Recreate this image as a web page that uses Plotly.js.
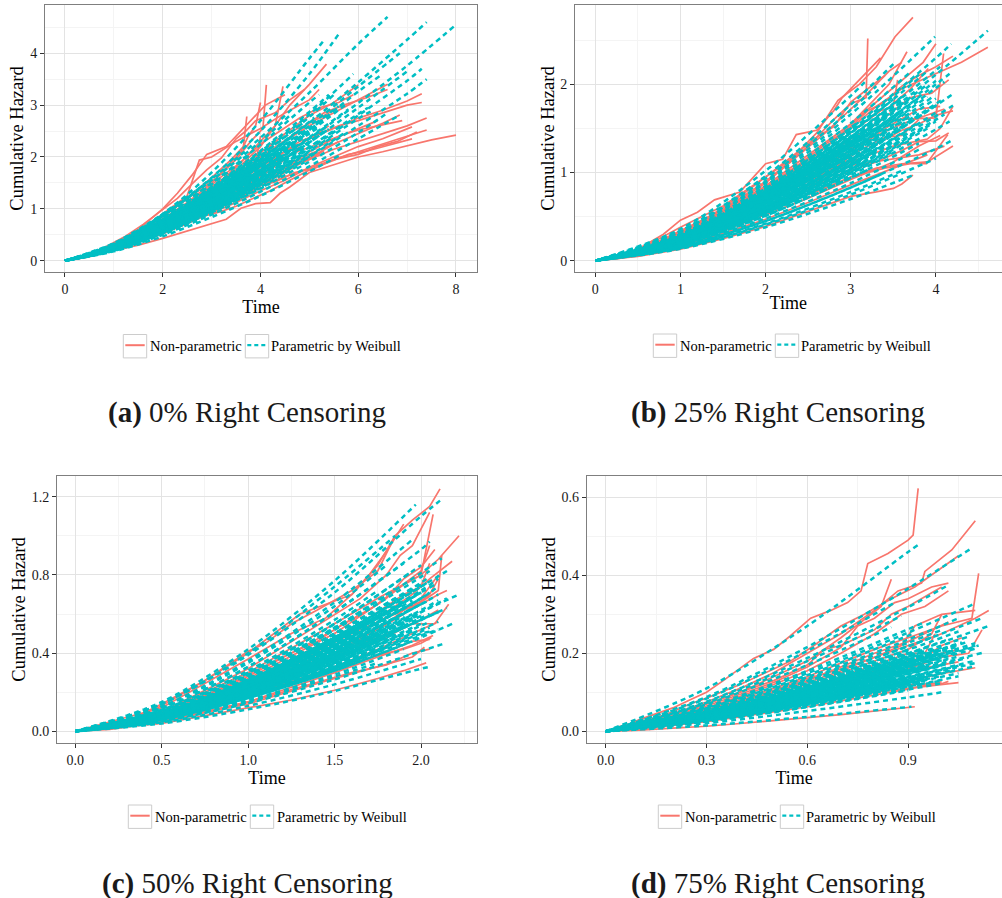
<!DOCTYPE html>
<html><head><meta charset="utf-8">
<script src="https://cdn.plot.ly/plotly-3.0.1.min.js"></script>
<style>html,body{margin:0;padding:0;background:#fff}#chart{width:1002px;height:898px}</style>
</head><body><div id="chart"></div>
<script>
// ---------- DATA (time, cumulative hazard) ----------
const seriesNames = ["Non-parametric", "Parametric by Weibull"];
const captions = ["0% Right Censoring", "25% Right Censoring", "50% Right Censoring", "75% Right Censoring"];
const captionTags = ["(a)", "(b)", "(c)", "(d)"];

const a_xticks = [0, 2, 4, 6, 8];
const a_yticks = [0, 1, 2, 3, 4];
const b_xticks = [0, 1, 2, 3, 4];
const b_yticks = [0, 1, 2];
const c_xticks = [0, 0.5, 1, 1.5, 2];
const c_xlabels = ["0.0", "0.5", "1.0", "1.5", "2.0"];
const c_yticks = [0, 0.4, 0.8, 1.2];
const c_ylabels = ["0.0", "0.4", "0.8", "1.2"];
const d_xticks = [0, 0.3, 0.6, 0.9];
const d_xlabels = ["0.0", "0.3", "0.6", "0.9"];
const d_yticks = [0, 0.2, 0.4, 0.6];
const d_ylabels = ["0.0", "0.2", "0.4", "0.6"];

// Panel (a) 0% censoring
const a_nonpar = [
 [[0,0],[0.5,.08],[1,.2],[1.5,.3],[2,.43],[2.5,.57],[3,.72],[3.3,.8],[3.6,1.01],[3.9,1.1],[4.2,1.12],[4.4,1.3],[4.6,1.42],[5,1.7],[5.5,1.85],[6,2.0],[6.5,2.1],[7,2.22],[7.5,2.33],[8,2.42]],
 [[0,0],[0.5,.09],[1,.22],[1.5,.37],[2,.55],[2.5,.75],[3,.98],[3.5,1.2],[4,1.45],[4.5,1.62],[5,1.78],[5.5,1.95],[6,2.1],[6.5,2.25],[7,2.4],[7.4,2.52]],
 [[0,0],[0.5,.1],[1,.24],[1.5,.4],[2,.6],[2.5,.82],[3,1.05],[3.5,1.3],[4,1.6],[4.5,1.8],[5,1.95],[5.5,2.15],[6,2.3],[6.5,2.45],[7,2.6],[7.4,2.75]],
 [[0,0],[0.5,.1],[1,.26],[1.5,.45],[2,.66],[2.5,.9],[3,1.18],[3.5,1.5],[4,1.8],[4.5,2.1],[5,2.35],[5.5,2.55],[6,2.75],[6.5,2.9],[7,3.08],[7.3,3.22]],
 [[0,0],[0.5,.1],[1,.27],[1.5,.47],[2,.7],[2.5,.98],[3,1.28],[3.5,1.62],[4,1.95],[4.5,2.3],[5,2.6],[5.5,2.85],[6,3.1],[6.6,3.4]],
 [[0,0],[0.5,.08],[1,.21],[1.5,.36],[2,.52],[2.5,.72],[3,.92],[3.5,1.12],[4,1.35],[4.5,1.55],[5,1.8],[5.5,2.0],[6,2.2],[6.5,2.35],[7.1,2.58]],
 [[0,0],[0.5,.09],[1,.23],[1.5,.39],[2,.58],[2.5,.8],[3,1.02],[3.5,1.28],[4,1.52],[4.5,1.78],[5,2.05],[5.5,2.25],[6,2.45],[6.5,2.65],[6.85,2.81]],
 [[0,0],[0.5,.11],[1,.28],[1.5,.5],[2,.76],[2.5,1.05],[3,1.4],[3.5,1.8],[4,2.3],[4.3,2.6],[4.6,3.0],[5,3.4],[5.35,3.79]],
 [[0,0],[0.5,.11],[1,.29],[1.5,.52],[2,.8],[2.5,1.12],[3,1.5],[3.5,1.95],[3.8,2.3],[4.05,2.55],[4.12,3.39]],
 [[0,0],[0.5,.12],[1,.3],[1.5,.55],[2,.85],[2.5,1.2],[3,1.6],[3.4,1.95],[3.65,2.2],[3.72,2.78]],
 [[0,0],[0.5,.1],[1,.27],[1.5,.48],[2,.74],[2.5,1.02],[3,1.36],[3.5,1.75],[4,2.2],[4.3,2.6],[4.46,3.36]],
 [[0,0],[0.5,.13],[1,.33],[1.5,.6],[2,1.0],[2.3,1.3],[2.6,1.65],[2.9,2.05],[3.3,2.2],[3.7,2.6],[4.1,3.0],[4.5,3.2]],
 [[0,0],[0.5,.12],[1,.31],[1.5,.57],[2,.9],[2.5,1.25],[2.75,1.94],[3,2.0],[3.5,2.3],[4,2.55],[4.5,2.85],[5,3.1],[5.2,3.3]],
 [[0,0],[0.5,.11],[1,.28],[1.5,.5],[2,.76],[2.5,1.05],[3,1.38],[3.5,1.72],[4,2.08],[4.5,2.45],[5,2.8],[5.5,3.05],[6,3.39]],
 [[0,0],[0.4,.07],[0.8,.17],[1.2,.3],[1.6,.45],[2,.62],[2.3,.7],[2.6,.88],[3,1.0],[3.3,1.15],[3.6,1.2],[4,1.45],[4.3,1.52],[4.7,1.7],[5.1,1.78],[5.5,1.95],[6,2.05],[6.4,2.2],[6.8,2.3],[7.2,2.48]],
 [[0,0],[0.4,.08],[0.8,.2],[1.2,.36],[1.6,.55],[2,.78],[2.4,1.0],[2.7,1.25],[3,1.42],[3.3,1.62],[3.6,1.75],[3.9,2.05],[4.2,2.2],[4.5,2.45],[4.9,2.6],[5.3,2.85],[5.7,3.0],[6.2,3.15],[6.6,3.3]],
 [[0,0],[0.4,.06],[0.8,.15],[1.2,.27],[1.6,.4],[2,.55],[2.4,.7],[2.8,.85],[3.2,.95],[3.5,1.05],[3.8,1.18],[4.2,1.35],[4.6,1.55],[5,1.75],[5.4,1.9],[5.8,2.05],[6.2,2.12],[6.7,2.25],[7.1,2.35]],
 [[0,0],[0.4,.09],[0.8,.22],[1.2,.4],[1.6,.6],[2,.85],[2.4,1.12],[2.8,1.4],[3.1,1.6],[3.4,1.9],[3.6,2.1],[3.75,2.4],[3.9,2.6],[4.0,3.05]],
 [[0,0],[0.4,.09],[0.8,.22],[1.2,.38],[1.6,.58],[2,.8],[2.4,1.05],[2.8,1.3],[3.2,1.62],[3.6,1.9],[4.0,2.25],[4.4,2.5],[4.8,2.75],[5.2,2.95],[5.6,3.05],[5.9,3.2]],
 [[0,0],[0.4,.1],[0.8,.25],[1.2,.45],[1.6,.7],[2,.98],[2.3,1.2],[2.6,1.48],[2.9,1.75],[3.2,1.98],[3.5,2.35],[3.7,2.5],[3.9,2.7],[4.3,2.85],[4.6,3.1],[4.9,3.3]],
 [[0,0],[0.4,.08],[0.8,.19],[1.2,.33],[1.6,.5],[2,.68],[2.4,.9],[2.8,1.12],[3.2,1.38],[3.6,1.6],[4.0,1.85],[4.4,2.05],[4.8,2.3],[5.2,2.45],[5.6,2.6],[6,2.7],[6.5,2.85],[7,3.0],[7.3,3.05]],
 [[0,0],[0.4,.07],[0.8,.18],[1.2,.32],[1.6,.48],[2,.65],[2.4,.85],[2.8,1.08],[3.2,1.3],[3.6,1.5],[4,1.72],[4.4,1.95],[4.8,2.12],[5.2,2.25],[5.6,2.4],[6,2.52],[6.4,2.6],[6.9,2.7]],
 [[0,0],[0.5,.09],[1,.22],[1.5,.38],[2,.57],[2.5,.79],[3,1.02],[3.5,1.27],[4,1.52],[4.5,1.8],[5,2.1],[5.5,2.35],[6,2.55],[6.4,2.7]],
 [[0,0],[0.5,.09],[1,.24],[1.5,.42],[2,.62],[2.5,.85],[3,1.1],[3.5,1.4],[4,1.7],[4.5,2.05],[5,2.35],[5.4,2.6]],
 [[0,0],[0.5,.1],[1,.25],[1.5,.44],[2,.66],[2.5,.92],[3,1.2],[3.5,1.52],[4,1.88],[4.4,2.15]],
 [[0,0],[0.5,.08],[1,.2],[1.5,.35],[2,.52],[2.5,.72],[3,.95],[3.5,1.18],[4,1.45],[4.5,1.7],[5,1.98],[5.6,2.3]],
 [[0,0],[0.5,.1],[1,.26],[1.5,.46],[2,.7],[2.5,.96],[3,1.25],[3.5,1.58],[3.9,1.85],[4,2.4]],
 [[0,0],[0.5,.09],[1,.23],[1.5,.4],[2,.6],[2.5,.82],[3,1.07],[3.5,1.33],[4,1.62],[4.5,1.95],[4.8,2.2]],
 [[0,0],[0.5,.1],[1,.27],[1.5,.47],[2,.72],[2.5,1.0],[3,1.3],[3.5,1.65],[4,2.0],[4.5,2.32],[5,2.65],[5.5,2.9]],
 [[0,0],[0.5,.08],[1,.21],[1.5,.37],[2,.55],[2.5,.77],[3,1.0],[3.5,1.24],[4,1.5],[4.5,1.74],[5,1.95],[5.3,2.12]]
];
const a_weib = [
 [[0,0],[1,.34],[2,.9],[3,1.58],[4,2.37],[5,3.24],[6,4.18],[6.6,4.7]],
 [[0,0],[1,.3],[2,.9],[3,1.7],[4,2.7],[5,3.9],[5.3,4.25]],
 [[0,0],[1,.3],[2,.86],[3,1.6],[4,2.5],[5,3.6],[5.6,4.37]],
 [[0,0],[1,.28],[2,.74],[3,1.3],[4,1.95],[5,2.66],[6,3.44],[7,4.26],[7.4,4.6]],
 [[0,0],[1,.25],[2,.65],[3,1.15],[4,1.72],[5,2.35],[6,3.04],[7,3.76],[8,4.55]],
 [[0,0],[1,.21],[2,.56],[3,.99],[4,1.47],[5,2.01],[6,2.6],[7,3.22],[7.4,3.5]],
 [[0,0],[1,.22],[2,.6],[3,1.06],[4,1.58],[5,2.16],[6,2.8],[7,3.47],[7.3,3.7]],
 [[0,0],[1,.19],[2,.5],[3,.89],[4,1.33],[5,1.82],[6,2.35],[6.8,2.78]],
 [[0,0],[1,.27],[2,.72],[3,1.27],[4,1.9],[5,2.6],[6,3.36],[6.85,4.0]],
 [[0,0],[1,.29],[2,.78],[3,1.38],[4,2.06],[5,2.82],[5.9,3.6]],
 [[0,0],[1,.26],[2,.7],[3,1.23],[4,1.84],[5,2.52],[6,3.26],[6.5,3.6]],
 [[0,0],[1,.24],[2,.63],[3,1.12],[4,1.67],[5,2.28],[6,2.95],[7,3.65]],
 [[0,0],[1,.32],[2,.85],[3,1.5],[4,2.24],[5,3.05],[5.2,3.2]],
 [[0,0],[1,.2],[2,.53],[3,.94],[4,1.4],[5,1.91],[6,2.47],[6.6,2.85]],
 [[0,0],[1,.23],[2,.61],[3,1.08],[4,1.6],[5,2.19],[6,2.83],[6.2,2.95]],
 [[0,0],[1,.25],[2,.66],[3,1.17],[4,1.75],[4.8,2.25]],
 [[0,0],[1,.27],[2,.72],[3,1.27],[4,1.9],[4.5,2.22]],
 [[0,0],[1,.22],[2,.58],[3,1.03],[4,1.53],[5,2.1],[5.5,2.4]],
 [[0,0],[1,.3],[2,.8],[3,1.42],[4,2.12],[4.4,2.43]],
 [[0,0],[1,.24],[2,.64],[3,1.13],[4,1.68],[5,2.3],[5.3,2.5]],
 [[0,0],[1,.28],[2,.75],[3,1.33],[3.9,1.9]],
 [[0,0],[1,.2],[2,.54],[3,.96],[4,1.42],[4.9,1.9]],
 [[0,0],[1,.26],[2,.69],[3,1.22],[4,1.81],[5,2.48],[5.8,3.05]],
 [[0,0],[1,.31],[2,.83],[3,1.47],[3.8,2.05]],
 [[0,0],[1,.23],[2,.6],[3,1.07],[4,1.6],[4.3,1.78]],
 [[0,0],[1,.29],[2,.77],[3,1.36],[4,2.03],[5,2.77],[5.5,3.2]],
 [[0,0],[1,.21],[2,.56],[3,1.0],[4,1.49],[5,2.03],[5.7,2.45]],
 [[0,0],[1,.25],[2,.67],[3,1.19],[3.6,1.52]],
 [[0,0],[1,.33],[2,.88],[3,1.55],[4,2.3],[4.6,2.8]],
 [[0,0],[1,.18],[2,.47],[3,.84],[4,1.25],[5,1.72],[5.6,2.02]],
 [[0,0],[1,.27],[2,.71],[3,1.26],[4,1.87],[5,2.56],[5.6,2.98]],
 [[0,0],[1,.24],[2,.62],[3,1.1],[4,1.64],[4.6,1.98]],
 [[0,0],[1,.3],[2,.8],[3,1.41],[4,2.1],[5,2.87],[5.4,3.2]],
 [[0,0],[1,.22],[2,.59],[3,1.04],[4,1.55],[5,2.12],[6,2.74],[6.3,2.9]],
 [[0,0],[1,.26],[2,.68],[3,1.2],[4,1.8],[5,2.45],[5.2,2.58]],
 [[0,0],[1,.2],[2,.53],[3,.93],[4,1.39],[4.2,1.49]],
 [[0,0],[1,.205],[2,.54],[3,.96],[3.6,1.23]],
 [[0,0],[1,.21],[2,.55],[3,.98],[4,1.46],[5,2.0],[5.1,2.06]],
 [[0,0],[1,.215],[2,.57],[3,1.0],[4,1.5],[4.5,1.77]],
 [[0,0],[1,.22],[2,.58],[3,1.03],[3.8,1.43]],
 [[0,0],[1,.225],[2,.59],[3,1.05],[4,1.57],[4.9,2.08]],
 [[0,0],[1,.23],[2,.61],[3,1.07],[3.4,1.28]],
 [[0,0],[1,.235],[2,.62],[3,1.1],[4,1.64],[4.6,1.99]],
 [[0,0],[1,.24],[2,.63],[3,1.12],[4,1.67],[5,2.28],[5.4,2.54]],
 [[0,0],[1,.245],[2,.65],[3,1.14],[4,1.71],[4.1,1.76]],
 [[0,0],[1,.25],[2,.66],[3,1.17],[3.7,1.56]],
 [[0,0],[1,.255],[2,.67],[3,1.19],[4,1.77],[4.7,2.23]],
 [[0,0],[1,.26],[2,.69],[3,1.21],[3.5,1.5]],
 [[0,0],[1,.265],[2,.7],[3,1.23],[4,1.84],[5,2.52],[5.2,2.67]],
 [[0,0],[1,.27],[2,.71],[3,1.26],[4,1.88],[4.4,2.15]],
 [[0,0],[1,.275],[2,.73],[3,1.28],[3.2,1.4]],
 [[0,0],[1,.28],[2,.74],[3,1.3],[4,1.95],[4.2,2.09]],
 [[0,0],[1,.285],[2,.75],[3,1.33],[3.6,1.71]],
 [[0,0],[1,.29],[2,.77],[3,1.35],[4,2.02],[4.9,2.68]],
 [[0,0],[1,.295],[2,.78],[3,1.37],[3.8,1.91]],
 [[0,0],[1,.23],[2,.61],[3,1.07],[4,1.6],[5,2.19],[5.6,2.56]],
 [[0,0],[1,.25],[2,.66],[3,1.17],[4,1.74],[5,2.38],[5.8,2.92]],
 [[0,0],[1,.215],[2,.57],[3,1.0],[3.4,1.19]],
 [[0,0],[1,.26],[2,.69],[3,1.21],[4,1.81],[4.5,2.14]],
 [[0,0],[1,.24],[2,.63],[3,1.12],[3.9,1.62]],
 [[0,0],[1,.27],[2,.71],[3,1.26],[4,1.88],[5,2.57]],
 [[0,0],[1,.22],[2,.58],[3,1.03],[4,1.53],[4.6,1.87]],
 [[0,0],[1,.25],[2,.66],[3,1.17],[4,1.74],[4.3,1.92]],
 [[0,0],[1,.28],[2,.74],[3,1.3],[3.4,1.55]],
 [[0,0],[1,.235],[2,.62],[3,1.1],[3.1,1.15]],
 [[0,0],[1,.212],[2,.56],[3,.99],[4,1.48]],
 [[0,0],[1,.218],[2,.58],[3,1.02],[4,1.52],[5,2.08]],
 [[0,0],[1,.228],[2,.6],[3,1.06],[4,1.59],[4.3,1.76]],
 [[0,0],[1,.232],[2,.61],[3,1.08],[3.9,1.56]],
 [[0,0],[1,.238],[2,.63],[3,1.11],[4,1.66],[4.8,2.16]],
 [[0,0],[1,.242],[2,.64],[3,1.13],[3.6,1.45]],
 [[0,0],[1,.248],[2,.65],[3,1.16],[4,1.73],[5,2.36],[5.3,2.56]],
 [[0,0],[1,.252],[2,.67],[3,1.17],[4,1.75],[4.4,2.01]],
 [[0,0],[1,.258],[2,.68],[3,1.2],[3.8,1.67]],
 [[0,0],[1,.262],[2,.69],[3,1.22],[4,1.82],[4.9,2.42]],
 [[0,0],[1,.268],[2,.71],[3,1.25],[4,1.87]],
 [[0,0],[1,.272],[2,.72],[3,1.27],[3.5,1.57]],
 [[0,0],[1,.278],[2,.73],[3,1.3],[4,1.93],[4.6,2.36]],
 [[0,0],[1,.282],[2,.74],[3,1.31],[4,1.96],[5,2.68],[5.1,2.76]],
 [[0,0],[1,.288],[2,.76],[3,1.34],[4,2.0],[4.2,2.15]],
 [[0,0],[1,.222],[2,.59],[3,1.03],[3.3,1.18]],
 [[0,0],[1,.245],[2,.65],[3,1.14],[4,1.71],[4.5,2.01]],
 [[0,0],[1,.255],[2,.67],[3,1.19],[3.3,1.36]],
 [[0,0],[1,.265],[2,.7],[3,1.23],[4,1.84],[4.3,2.04]],
 [[0,0],[1,.235],[2,.62],[3,1.1],[4,1.64],[5,2.24]]
];

// Panel (b) 25% censoring
const b_nonpar = [
 [[0,0],[0.5,.12],[1,.38],[1.5,.62],[2,.95],[2.3,1.15],[2.6,1.45],[2.85,1.82],[3.1,2.0],[3.3,2.2],[3.52,2.54],[3.73,2.76]],
 [[0,0],[0.5,.11],[1,.34],[1.5,.58],[2,.9],[2.5,1.3],[2.8,1.6],[3.0,1.78],[3.18,1.85],[3.2,2.52]],
 [[0,0],[0.5,.1],[1,.3],[1.5,.55],[2,.82],[2.5,1.15],[3,1.5],[3.3,1.75],[3.6,1.95],[4,2.12],[4.3,2.25],[4.61,2.42]],
 [[0,0],[0.5,.08],[1,.24],[1.5,.42],[2,.62],[2.5,.85],[3,1.12],[3.5,1.3],[3.9,1.38],[4.05,1.5],[4.2,1.75]],
 [[0,0],[0.5,.07],[1,.2],[1.5,.36],[2,.55],[2.5,.75],[3,.95],[3.4,1.05],[3.7,1.1],[3.89,1.1],[4.14,1.43]],
 [[0,0],[0.5,.09],[1,.27],[1.5,.48],[2,.74],[2.5,1.02],[3,1.33],[3.5,1.6],[4.0,1.62],[4.09,2.35]],
 [[0,0],[0.5,.05],[1,.13],[1.5,.25],[2,.39],[2.5,.56],[3,.73],[3.3,.78],[3.5,.82],[3.6,.87],[3.73,.97]],
 [[0,0],[0.5,.13],[0.8,.3],[1,.46],[1.2,.55],[1.4,.69],[1.7,.78],[2.0,1.1],[2.2,1.15],[2.36,1.43],[2.6,1.48],[2.8,1.7],[2.9,1.85],[3.1,2.05],[3.35,2.3]],
 [[0,0],[0.5,.1],[1,.32],[1.5,.56],[2,.85],[2.5,1.2],[3,1.55],[3.3,1.8],[3.6,2.05],[3.85,2.25],[4.0,2.46]],
 [[0,0],[0.5,.09],[1,.28],[1.5,.5],[2,.76],[2.5,1.05],[3,1.4],[3.4,1.7],[3.7,1.95],[3.91,2.18]],
 [[0,0],[0.5,.1],[1,.31],[1.5,.54],[2,.82],[2.5,1.12],[2.9,1.45],[3.2,1.75],[3.45,2.0],[3.66,2.37]],
 [[0,0],[0.5,.07],[1,.22],[1.5,.4],[2,.6],[2.5,.82],[3,1.08],[3.5,1.15],[3.8,1.2],[4.1,1.3]],
 [[0,0],[0.3,.04],[0.6,.12],[0.9,.22],[1.2,.33],[1.5,.45],[1.8,.6],[2.1,.78],[2.4,.92],[2.7,1.1],[3,1.25],[3.3,1.42],[3.6,1.55],[3.9,1.65],[4.1,1.72]],
 [[0,0],[0.3,.05],[0.6,.14],[0.9,.26],[1.2,.38],[1.5,.55],[1.8,.72],[2.1,.9],[2.4,1.1],[2.7,1.32],[3,1.52],[3.2,1.7],[3.4,1.8],[3.6,1.98],[3.8,2.1],[4.0,2.2],[4.2,2.32]],
 [[0,0],[0.3,.03],[0.6,.09],[0.9,.17],[1.2,.27],[1.5,.37],[1.8,.48],[2.1,.6],[2.4,.72],[2.7,.82],[3,.95],[3.3,1.05],[3.6,1.1],[3.9,1.12],[4.2,1.3]],
 [[0,0],[0.3,.05],[0.6,.15],[0.9,.28],[1.2,.42],[1.5,.6],[1.8,.8],[2.1,1.02],[2.4,1.25],[2.6,1.4],[2.8,1.52],[3.0,1.8],[3.2,1.95],[3.4,2.1]],
 [[0,0],[0.3,.04],[0.6,.11],[0.9,.2],[1.2,.31],[1.5,.43],[1.8,.56],[2.1,.7],[2.4,.85],[2.7,1.0],[3,1.15],[3.3,1.32],[3.6,1.48],[3.8,1.55],[4.0,1.65],[4.2,1.7]],
 [[0,0],[0.3,.03],[0.6,.1],[0.9,.18],[1.2,.28],[1.5,.38],[1.8,.5],[2.1,.62],[2.4,.75],[2.7,.9],[3,1.02],[3.3,1.12],[3.6,1.25],[3.8,1.35],[4.0,1.36],[4.15,1.45]],
 [[0,0],[0.5,.08],[1,.25],[1.5,.45],[2,.68],[2.5,.95],[3,1.25],[3.4,1.5],[3.8,1.72],[4.05,1.75]],
 [[0,0],[0.5,.08],[1,.26],[1.5,.46],[2,.7],[2.5,.98],[2.9,1.25],[3.2,1.35]],
 [[0,0],[0.5,.06],[1,.17],[1.5,.31],[2,.47],[2.5,.66],[3,.86],[3.5,1.05],[3.9,1.2]],
 [[0,0],[0.5,.11],[1,.33],[1.5,.57],[2,.88],[2.4,1.2],[2.7,1.45],[3.0,1.72],[3.2,1.9],[3.45,2.15],[3.6,2.25]],
 [[0,0],[0.5,.09],[1,.29],[1.5,.5],[2,.76],[2.5,1.06],[3,1.38],[3.3,1.55],[3.7,1.85],[3.95,1.9],[4.15,2.05]],
 [[0,0],[0.5,.06],[1,.19],[1.5,.34],[2,.52],[2.5,.71],[3,.92],[3.5,1.12],[3.8,1.3],[4.05,1.42]],
 [[0,0],[0.5,.07],[1,.23],[1.5,.43],[2,.66],[2.5,.9],[2.8,1.05],[3.1,1.25],[3.4,1.4],[3.6,1.42],[3.8,1.6]],
 [[0,0],[0.5,.1],[1,.3],[1.5,.53],[2,.8],[2.5,1.1],[3,1.45],[3.35,1.7],[3.5,1.75],[3.55,2.05]]
];
const b_weib = [
 [[0,0],[1,.26],[2,.75],[3,1.37],[4,2.11],[4.61,2.61]],
 [[0,0],[1,.29],[2,.82],[3,1.5],[4,2.3],[4.18,2.46]],
 [[0,0],[1,.32],[2,.9],[3,1.66],[3.99,2.54]],
 [[0,0],[1,.25],[2,.71],[3,1.3],[4,2.0],[4.16,2.12]],
 [[0,0],[1,.16],[2,.45],[3,.83],[4,1.27],[4.2,1.37]],
 [[0,0],[1,.19],[2,.53],[3,.97],[4,1.49],[4.16,1.58]],
 [[0,0],[1,.135],[2,.38],[3,.7],[3.73,.97]],
 [[0,0],[1,.36],[2,1.02],[3,1.87],[3.2,2.06]],
 [[0,0],[1,.34],[2,.96],[3,1.77],[3.5,2.23]],
 [[0,0],[1,.3],[2,.85],[3,1.56],[3.7,2.14]],
 [[0,0],[1,.22],[2,.62],[3,1.14],[4,1.76]],
 [[0,0],[1,.27],[2,.76],[3,1.4],[3.6,1.84]],
 [[0,0],[1,.2],[2,.57],[3,1.04],[3.9,1.54]],
 [[0,0],[1,.24],[2,.68],[3,1.25],[3.3,1.44]],
 [[0,0],[1,.17],[2,.48],[3,.88],[3.8,1.26]],
 [[0,0],[1,.29],[2,.82],[3,1.51],[3.1,1.58]],
 [[0,0],[1,.21],[2,.59],[3,1.09],[3.5,1.38]],
 [[0,0],[1,.26],[2,.74],[3,1.35],[3.4,1.63]],
 [[0,0],[1,.15],[2,.42],[3,.78],[3.6,1.02]],
 [[0,0],[1,.23],[2,.65],[3,1.2]],
 [[0,0],[1,.31],[2,.88],[2.9,1.53]],
 [[0,0],[1,.18],[2,.51],[3,.94],[3.2,1.03]],
 [[0,0],[1,.25],[2,.71],[2.8,1.17]],
 [[0,0],[1,.28],[2,.79],[3,1.45],[3.9,2.15]],
 [[0,0],[1,.2],[2,.57],[3,1.04],[4,1.6],[4.1,1.66]],
 [[0,0],[1,.33],[2,.93],[3,1.71],[3.3,1.98]],
 [[0,0],[1,.22],[2,.62],[3,1.14],[3.7,1.57]],
 [[0,0],[1,.145],[2,.41],[3,.75],[4,1.16]],
 [[0,0],[1,.235],[2,.66],[3,1.22],[3.95,1.85]],
 [[0,0],[1,.19],[2,.54],[2.9,.94]],
 [[0,0],[1,.27],[2,.76],[3,1.4],[4,2.16],[4.05,2.2]],
 [[0,0],[1,.16],[2,.45],[3,.83],[3.4,1.0]],
 [[0,0],[1,.19],[2,.54],[3,.99],[3.5,1.24]],
 [[0,0],[1,.195],[2,.55],[3,1.01],[3.9,1.5]],
 [[0,0],[1,.2],[2,.57],[3,1.04],[3.2,1.14]],
 [[0,0],[1,.205],[2,.58],[3,1.07],[3.7,1.46]],
 [[0,0],[1,.21],[2,.59],[3,1.09],[4,1.68]],
 [[0,0],[1,.215],[2,.61],[3,1.12],[3.3,1.29]],
 [[0,0],[1,.22],[2,.62],[3,1.14],[3.6,1.5]],
 [[0,0],[1,.225],[2,.64],[3,1.17],[3.8,1.67]],
 [[0,0],[1,.23],[2,.65],[3,1.2],[3.1,1.26]],
 [[0,0],[1,.235],[2,.66],[3,1.22],[3.4,1.47]],
 [[0,0],[1,.24],[2,.68],[3,1.25],[3.7,1.71]],
 [[0,0],[1,.245],[2,.69],[3,1.27],[4,1.96],[4.1,2.03]],
 [[0,0],[1,.25],[2,.71],[3,1.3],[3.5,1.64]],
 [[0,0],[1,.255],[2,.72],[3,1.33],[3.2,1.46]],
 [[0,0],[1,.26],[2,.74],[3,1.35],[3.9,2.0]],
 [[0,0],[1,.265],[2,.75],[3,1.38],[3.6,1.81]],
 [[0,0],[1,.27],[2,.76],[3,1.4],[3.3,1.62]],
 [[0,0],[1,.275],[2,.78],[3,1.43]],
 [[0,0],[1,.28],[2,.79],[3,1.46],[3.5,1.83]],
 [[0,0],[1,.285],[2,.81],[3,1.48],[3.8,2.11]],
 [[0,0],[1,.21],[2,.59],[3,1.09],[3.4,1.32]],
 [[0,0],[1,.23],[2,.65],[3,1.2],[4,1.84]],
 [[0,0],[1,.25],[2,.71],[3,1.3],[3.8,1.85]],
 [[0,0],[1,.2],[2,.57],[3,1.04],[3.6,1.37]],
 [[0,0],[1,.24],[2,.68],[3,1.25]],
 [[0,0],[1,.22],[2,.62],[3,1.14],[4,1.76],[4.2,1.89]],
 [[0,0],[1,.26],[2,.74],[3,1.35],[3.1,1.42]],
 [[0,0],[1,.18],[2,.51],[3,.94],[3.8,1.33]],
 [[0,0],[1,.192],[2,.54],[3,1.0],[3.7,1.37]],
 [[0,0],[1,.198],[2,.56],[3,1.03],[4,1.58]],
 [[0,0],[1,.208],[2,.59],[3,1.08],[3.3,1.25]],
 [[0,0],[1,.212],[2,.6],[3,1.1],[3.8,1.57]],
 [[0,0],[1,.218],[2,.62],[3,1.13],[3.5,1.43]],
 [[0,0],[1,.222],[2,.63],[3,1.15],[4,1.78],[4.1,1.84]],
 [[0,0],[1,.228],[2,.65],[3,1.19],[3.4,1.43]],
 [[0,0],[1,.232],[2,.66],[3,1.21],[3.7,1.65]],
 [[0,0],[1,.238],[2,.67],[3,1.24],[3.2,1.36]],
 [[0,0],[1,.242],[2,.68],[3,1.26],[3.9,1.86]],
 [[0,0],[1,.248],[2,.7],[3,1.29],[3.6,1.69]],
 [[0,0],[1,.252],[2,.71],[3,1.31],[3.3,1.51]],
 [[0,0],[1,.258],[2,.73],[3,1.34],[3.7,1.84]],
 [[0,0],[1,.262],[2,.74],[3,1.36],[3.4,1.64]],
 [[0,0],[1,.268],[2,.76],[3,1.39],[3.1,1.46]],
 [[0,0],[1,.272],[2,.77],[3,1.41],[3.6,1.86]],
 [[0,0],[1,.278],[2,.79],[3,1.45],[3.3,1.67]],
 [[0,0],[1,.205],[2,.58],[3,1.07],[4,1.64],[4.2,1.76]],
 [[0,0],[1,.235],[2,.66],[3,1.22]],
 [[0,0],[1,.255],[2,.72],[3,1.33],[4,2.04]]
];

// Panel (c) 50% censoring
const c_nonpar = [
 [[0,0],[0.25,.03],[0.5,.13],[0.75,.26],[1,.41],[1.1,.45],[1.25,.55],[1.4,.62],[1.6,.72],[1.75,.82],[1.85,1.0],[1.95,1.08],[2.05,1.15],[2.11,1.24]],
 [[0,0],[0.5,.09],[1,.28],[1.25,.4],[1.5,.52],[1.75,.65],[1.9,.75],[2.0,.8],[2.1,.88],[2.22,1.0]],
 [[0,0],[0.5,.08],[1,.25],[1.5,.47],[1.75,.58],[1.95,.7],[2.05,.78],[2.18,.87]],
 [[0,0],[0.5,.1],[1,.3],[1.5,.55],[1.75,.68],[1.9,.75],[2.0,.8],[2.07,1.11]],
 [[0,0],[0.5,.07],[1,.2],[1.5,.37],[1.75,.46],[1.95,.55],[2.08,.55],[2.16,.65]],
 [[0,0],[0.5,.05],[1,.15],[1.5,.3],[1.75,.38],[1.95,.44],[2.07,.49]],
 [[0,0],[0.5,.04],[0.75,.08],[1,.12],[1.25,.16],[1.5,.21],[1.75,.27],[1.9,.31],[2.03,.35]],
 [[0,0],[0.25,.03],[0.5,.14],[0.75,.26],[1,.4],[1.15,.5],[1.3,.6],[1.45,.65],[1.6,.7],[1.7,.8],[1.8,.92],[1.9,1.06]],
 [[0,0],[0.5,.12],[1,.37],[1.25,.5],[1.45,.58],[1.6,.7],[1.75,.85],[1.85,1.0]],
 [[0,0],[0.5,.09],[1,.27],[1.5,.5],[1.7,.62],[1.85,.72],[2.0,.82],[2.05,.95]],
 [[0,0],[0.5,.1],[1,.32],[1.5,.6],[1.65,.68],[1.8,.8],[1.88,.9],[1.95,.95],[2.05,1.12]],
 [[0,0],[0.2,.02],[0.4,.05],[0.6,.1],[0.8,.16],[1,.22],[1.2,.3],[1.4,.36],[1.6,.44],[1.7,.5],[1.8,.55],[1.9,.62],[2.0,.68],[2.05,.74],[2.1,.8]],
 [[0,0],[0.2,.015],[0.4,.04],[0.6,.08],[0.8,.13],[1,.18],[1.2,.23],[1.4,.29],[1.6,.35],[1.8,.4],[1.9,.42],[2.0,.45],[2.06,.48]],
 [[0,0],[0.2,.02],[0.4,.06],[0.6,.12],[0.8,.2],[1,.29],[1.2,.38],[1.4,.46],[1.55,.55],[1.7,.62],[1.8,.68],[1.9,.78],[2.0,.84],[2.08,.93]],
 [[0,0],[0.2,.01],[0.4,.035],[0.6,.07],[0.8,.11],[1,.15],[1.2,.2],[1.4,.25],[1.6,.3],[1.8,.34],[1.95,.4],[2.05,.42]],
 [[0,0],[0.2,.02],[0.4,.05],[0.6,.1],[0.8,.17],[1,.25],[1.2,.33],[1.4,.41],[1.6,.5],[1.75,.56],[1.9,.63],[2.0,.65],[2.1,.7],[2.15,.72]],
 [[0,0],[0.5,.07],[1,.22],[1.5,.4],[1.7,.5],[1.9,.6],[2.05,.7],[2.1,.78]],
 [[0,0],[0.5,.06],[1,.18],[1.5,.33],[1.75,.42],[1.95,.5],[2.1,.56]],
 [[0,0],[0.5,.08],[1,.24],[1.5,.44],[1.8,.58],[2.0,.66],[2.1,.72],[2.12,.9]],
 [[0,0],[0.5,.05],[1,.14],[1.5,.27],[1.75,.33],[1.95,.38],[2.02,.43]],
 [[0,0],[0.5,.07],[1,.21],[1.5,.39],[1.8,.5],[2.0,.57],[2.1,.62]],
 [[0,0],[0.5,.09],[1,.26],[1.5,.48],[1.7,.58],[1.9,.7],[2.0,.74],[2.05,.86]],
 [[0,0],[0.5,.06],[1,.17],[1.5,.31],[1.75,.39],[1.95,.46],[2.05,.47]],
 [[0,0],[0.5,.08],[1,.23],[1.5,.42],[1.75,.52],[1.9,.6],[1.98,.66]]
];
const c_weib = [
 [[0,0],[0.5,.14],[1,.39],[1.5,.71],[2,1.1],[2.11,1.18]],
 [[0,0],[0.5,.15],[1,.42],[1.5,.77],[1.97,1.16]],
 [[0,0],[0.5,.076],[1,.215],[1.5,.4],[2,.61],[2.22,.7]],
 [[0,0],[0.5,.051],[1,.144],[1.5,.265],[2,.41],[2.14,.45]],
 [[0,0],[0.5,.04],[1,.112],[1.5,.206],[2,.32],[2.05,.33]],
 [[0,0],[0.5,.1],[1,.287],[1.5,.53],[2,.81],[2.12,.885]],
 [[0,0],[0.5,.117],[1,.33],[1.5,.61],[1.9,.86]],
 [[0,0],[0.5,.088],[1,.25],[1.5,.46],[2,.71],[2.08,.75]],
 [[0,0],[0.5,.106],[1,.3],[1.5,.55],[2,.85]],
 [[0,0],[0.5,.07],[1,.2],[1.5,.37],[2,.57],[2.1,.61]],
 [[0,0],[0.5,.095],[1,.27],[1.5,.5],[1.85,.68]],
 [[0,0],[0.5,.081],[1,.23],[1.5,.42],[1.95,.63]],
 [[0,0],[0.5,.064],[1,.18],[1.5,.33],[2,.51],[2.05,.53]],
 [[0,0],[0.5,.124],[1,.35],[1.5,.64],[1.8,.85]],
 [[0,0],[0.5,.057],[1,.16],[1.5,.29],[1.9,.42]],
 [[0,0],[0.5,.085],[1,.24],[1.5,.44],[1.7,.53]],
 [[0,0],[0.5,.074],[1,.21],[1.5,.39],[1.8,.51]],
 [[0,0],[0.5,.1],[1,.28],[1.5,.52],[1.6,.57]],
 [[0,0],[0.5,.046],[1,.13],[1.5,.24],[2,.37]],
 [[0,0],[0.5,.092],[1,.26],[1.5,.48],[2,.74],[2.15,.82]],
 [[0,0],[0.5,.067],[1,.19],[1.5,.35],[1.95,.52]],
 [[0,0],[0.5,.11],[1,.31],[1.5,.57],[1.75,.72]],
 [[0,0],[0.5,.078],[1,.22],[1.5,.4],[1.6,.45]],
 [[0,0],[0.5,.06],[1,.17],[1.5,.31],[2,.48],[2.18,.55]],
 [[0,0],[0.5,.085],[1,.24],[1.5,.44],[2,.68]],
 [[0,0],[0.5,.127],[1,.36],[1.5,.66],[1.95,.98]],
 [[0,0],[0.5,.053],[1,.15],[1.5,.28],[1.75,.35]],
 [[0,0],[0.5,.07],[1,.2],[1.5,.37]],
 [[0,0],[0.5,.095],[1,.27],[1.5,.5],[2,.76],[2.05,.79]],
 [[0,0],[0.5,.081],[1,.23],[1.5,.42],[2,.65],[2.1,.7]],
 [[0,0],[0.5,.117],[1,.33],[1.5,.61],[2,.93],[2.05,.97]],
 [[0,0],[0.5,.14],[1,.4],[1.5,.74],[1.85,1.0]],
 [[0,0],[0.5,.06],[1,.17],[1.5,.31],[1.95,.46]],
 [[0,0],[0.5,.062],[1,.175],[1.5,.32],[2,.5],[2.05,.51]],
 [[0,0],[0.5,.064],[1,.18],[1.5,.33],[1.8,.43]],
 [[0,0],[0.5,.065],[1,.185],[1.5,.34],[2,.52],[2.1,.56]],
 [[0,0],[0.5,.067],[1,.19],[1.5,.35],[1.9,.5]],
 [[0,0],[0.5,.069],[1,.195],[1.5,.36],[2,.55]],
 [[0,0],[0.5,.071],[1,.2],[1.5,.37],[1.85,.5]],
 [[0,0],[0.5,.073],[1,.205],[1.5,.38],[2,.58],[2.05,.6]],
 [[0,0],[0.5,.074],[1,.21],[1.5,.39],[1.75,.49]],
 [[0,0],[0.5,.076],[1,.215],[1.5,.4],[1.95,.58]],
 [[0,0],[0.5,.078],[1,.22],[1.5,.4],[2,.62],[2.1,.67]],
 [[0,0],[0.5,.08],[1,.225],[1.5,.41],[1.9,.59]],
 [[0,0],[0.5,.081],[1,.23],[1.5,.42],[2,.65]],
 [[0,0],[0.5,.083],[1,.235],[1.5,.43],[1.8,.57]],
 [[0,0],[0.5,.085],[1,.24],[1.5,.44],[2,.68],[2.05,.71]],
 [[0,0],[0.5,.087],[1,.245],[1.5,.45],[1.95,.67]],
 [[0,0],[0.5,.088],[1,.25],[1.5,.46],[1.85,.63]],
 [[0,0],[0.5,.09],[1,.255],[1.5,.47],[2,.72],[2.1,.78]],
 [[0,0],[0.5,.092],[1,.26],[1.5,.48],[1.9,.68]],
 [[0,0],[0.5,.094],[1,.265],[1.5,.49],[2,.75]],
 [[0,0],[0.5,.096],[1,.27],[1.5,.5],[1.95,.73]],
 [[0,0],[0.5,.099],[1,.28],[1.5,.52],[2,.79],[2.05,.82]],
 [[0,0],[0.5,.103],[1,.29],[1.5,.53],[1.85,.73]],
 [[0,0],[0.5,.106],[1,.3],[1.5,.55],[1.95,.82]],
 [[0,0],[0.5,.071],[1,.2],[1.5,.37],[2,.57],[2.15,.63]],
 [[0,0],[0.5,.081],[1,.23],[1.5,.42],[1.7,.51]],
 [[0,0],[0.5,.088],[1,.25],[1.5,.46],[2,.71]],
 [[0,0],[0.5,.074],[1,.21],[1.5,.39],[2,.59]],
 [[0,0],[0.5,.061],[1,.172],[1.5,.32],[2,.49],[2.1,.52]],
 [[0,0],[0.5,.063],[1,.178],[1.5,.33],[1.9,.47]],
 [[0,0],[0.5,.067],[1,.188],[1.5,.35],[1.95,.51]],
 [[0,0],[0.5,.068],[1,.192],[1.5,.35],[2,.54],[2.05,.56]],
 [[0,0],[0.5,.07],[1,.198],[1.5,.36],[1.85,.5]],
 [[0,0],[0.5,.072],[1,.202],[1.5,.37],[2,.57],[2.1,.61]],
 [[0,0],[0.5,.074],[1,.208],[1.5,.38],[1.9,.54]],
 [[0,0],[0.5,.075],[1,.212],[1.5,.39],[2,.6]],
 [[0,0],[0.5,.077],[1,.218],[1.5,.4],[1.8,.53]],
 [[0,0],[0.5,.079],[1,.222],[1.5,.41],[1.95,.6]],
 [[0,0],[0.5,.081],[1,.228],[1.5,.42],[2,.65],[2.05,.67]],
 [[0,0],[0.5,.082],[1,.232],[1.5,.43],[1.85,.58]],
 [[0,0],[0.5,.084],[1,.238],[1.5,.44],[1.95,.65]],
 [[0,0],[0.5,.086],[1,.242],[1.5,.45],[2,.68],[2.1,.74]],
 [[0,0],[0.5,.088],[1,.248],[1.5,.46],[1.9,.65]],
 [[0,0],[0.5,.089],[1,.252],[1.5,.46],[2,.71]],
 [[0,0],[0.5,.091],[1,.258],[1.5,.47],[1.8,.62]],
 [[0,0],[0.5,.093],[1,.262],[1.5,.48],[2,.74],[2.05,.77]],
 [[0,0],[0.5,.065],[1,.185],[1.5,.34],[1.75,.43]],
 [[0,0],[0.5,.076],[1,.215],[1.5,.4],[2,.61],[2.15,.68]]
];

// Panel (d) 75% censoring
const d_nonpar = [
 [[0,0],[0.05,.01],[0.1,.03],[0.15,.045],[0.2,.06],[0.25,.08],[0.3,.1],[0.35,.13],[0.44,.187],[0.5,.21],[0.55,.245],[0.61,.29],[0.67,.31],[0.72,.33],[0.76,.36],[0.78,.43],[0.84,.456],[0.9,.49],[0.915,.503],[0.93,.623]],
 [[0,0],[0.1,.02],[0.2,.045],[0.3,.075],[0.4,.11],[0.5,.15],[0.6,.2],[0.7,.25],[0.8,.31],[0.87,.36],[0.94,.38],[0.95,.41],[1.03,.465],[1.1,.54]],
 [[0,0],[0.1,.015],[0.2,.035],[0.3,.06],[0.4,.085],[0.5,.11],[0.6,.14],[0.7,.175],[0.8,.21],[0.9,.24],[1.0,.27],[1.09,.29],[1.11,.405]],
 [[0,0],[0.1,.015],[0.2,.033],[0.3,.055],[0.4,.08],[0.5,.105],[0.6,.135],[0.7,.16],[0.8,.19],[0.9,.22],[1.0,.25],[1.1,.29],[1.14,.31]],
 [[0,0],[0.1,.008],[0.2,.02],[0.3,.033],[0.4,.047],[0.5,.062],[0.6,.078],[0.7,.095],[0.8,.11],[0.9,.128],[1.0,.148],[1.1,.163]],
 [[0,0],[0.1,.003],[0.2,.008],[0.3,.013],[0.4,.02],[0.5,.027],[0.6,.035],[0.7,.043],[0.8,.052],[0.92,.063]],
 [[0,0],[0.1,.006],[0.2,.015],[0.3,.025],[0.4,.037],[0.5,.05],[0.6,.063],[0.7,.078],[0.8,.093],[0.9,.108],[1.0,.127]],
 [[0,0],[0.1,.02],[0.2,.045],[0.3,.07],[0.4,.1],[0.5,.14],[0.6,.18],[0.7,.24],[0.76,.28],[0.82,.32],[0.85,.39]],
 [[0,0],[0.05,.015],[0.1,.025],[0.15,.035],[0.2,.05],[0.25,.07],[0.3,.085],[0.4,.12],[0.5,.16],[0.55,.18],[0.62,.22],[0.7,.27],[0.77,.3],[0.85,.34],[0.92,.37],[1.0,.42],[1.05,.45]],
 [[0,0],[0.1,.012],[0.2,.028],[0.3,.045],[0.4,.065],[0.5,.085],[0.6,.11],[0.7,.13],[0.8,.155],[0.9,.18],[0.95,.19],[1.0,.22],[1.06,.24]],
 [[0,0],[0.1,.008],[0.2,.018],[0.3,.03],[0.4,.045],[0.5,.06],[0.6,.07],[0.7,.085],[0.8,.1],[0.9,.11],[1.0,.12],[1.05,.125]],
 [[0,0],[0.1,.018],[0.2,.04],[0.3,.07],[0.4,.1],[0.5,.13],[0.6,.17],[0.65,.21],[0.7,.22],[0.8,.26],[0.85,.3],[0.9,.32],[0.96,.35],[1.0,.37]],
 [[0,0],[0.1,.01],[0.2,.022],[0.3,.038],[0.4,.055],[0.5,.075],[0.6,.095],[0.7,.115],[0.8,.14],[0.9,.16],[1.0,.19],[1.08,.2],[1.12,.26]],
 [[0,0],[0.1,.012],[0.2,.028],[0.3,.048],[0.4,.07],[0.5,.095],[0.6,.12],[0.7,.15],[0.8,.18],[0.9,.21],[0.97,.25],[1.0,.3]],
 [[0,0],[0.1,.01],[0.2,.024],[0.3,.04],[0.4,.058],[0.5,.078],[0.6,.1],[0.7,.125],[0.8,.15],[0.9,.175],[1.0,.2],[1.05,.21]],
 [[0,0],[0.1,.015],[0.2,.035],[0.3,.06],[0.4,.09],[0.5,.12],[0.6,.155],[0.7,.2],[0.8,.25],[0.88,.3],[0.95,.32],[1.02,.36]],
 [[0,0],[0.1,.013],[0.2,.03],[0.3,.05],[0.4,.075],[0.5,.1],[0.6,.13],[0.7,.165],[0.8,.2],[0.9,.23],[0.97,.26],[1.02,.28]],
 [[0,0],[0.1,.009],[0.2,.022],[0.3,.036],[0.4,.052],[0.5,.07],[0.6,.09],[0.7,.11],[0.8,.13],[0.9,.155],[1.0,.17],[1.05,.178]],
 [[0,0],[0.1,.011],[0.2,.026],[0.3,.044],[0.4,.065],[0.5,.088],[0.6,.113],[0.7,.14],[0.8,.17],[0.9,.2],[0.95,.2],[0.98,.25]],
 [[0,0],[0.1,.017],[0.2,.04],[0.3,.065],[0.4,.095],[0.5,.125],[0.6,.165],[0.7,.215],[0.75,.27],[0.8,.29],[0.86,.33],[0.9,.34],[0.97,.37],[1.02,.38]],
 [[0,0],[0.1,.007],[0.2,.017],[0.3,.03],[0.4,.043],[0.5,.058],[0.6,.075],[0.7,.09],[0.8,.107],[0.9,.12],[1.0,.122],[1.02,.128]],
 [[0,0],[0.1,.012],[0.2,.03],[0.3,.052],[0.4,.078],[0.5,.1],[0.6,.125],[0.7,.155],[0.8,.19],[0.88,.22],[0.92,.27],[1.0,.3],[1.1,.31]]
];
const d_weib = [
 [[0,0],[0.3,.11],[0.6,.27],[0.9,.46],[0.93,.478]],
 [[0,0],[0.3,.088],[0.6,.216],[0.9,.366],[1.09,.47]],
 [[0,0],[0.3,.076],[0.6,.188],[0.9,.318],[1.02,.375]],
 [[0,0],[0.3,.048],[0.6,.117],[0.9,.199],[1.14,.27]],
 [[0,0],[0.3,.04],[0.6,.099],[0.9,.167],[1.11,.22]],
 [[0,0],[0.3,.032],[0.6,.08],[0.9,.135],[1.1,.175]],
 [[0,0],[0.3,.026],[0.6,.063],[0.9,.107],[1.0,.123]],
 [[0,0],[0.3,.015],[0.6,.037],[0.91,.063]],
 [[0,0],[0.3,.063],[0.6,.155],[0.95,.28]],
 [[0,0],[0.3,.056],[0.6,.139],[0.9,.235],[1.05,.29]],
 [[0,0],[0.3,.042],[0.6,.103],[0.9,.174],[1.0,.2]],
 [[0,0],[0.3,.05],[0.6,.124],[0.9,.209]],
 [[0,0],[0.3,.036],[0.6,.088],[0.9,.148],[1.05,.18]],
 [[0,0],[0.3,.069],[0.6,.17],[0.85,.267]],
 [[0,0],[0.3,.044],[0.6,.108],[0.9,.183],[1.08,.23]],
 [[0,0],[0.3,.029],[0.6,.072],[0.95,.13]],
 [[0,0],[0.3,.054],[0.6,.134],[0.9,.227],[1.0,.26]],
 [[0,0],[0.3,.038],[0.6,.093],[0.9,.157]],
 [[0,0],[0.3,.021],[0.6,.052],[0.9,.087],[1.0,.1]],
 [[0,0],[0.3,.048],[0.6,.118],[0.8,.172]],
 [[0,0],[0.3,.061],[0.6,.149],[0.9,.253],[1.1,.328]],
 [[0,0],[0.3,.033],[0.6,.082],[0.85,.129]],
 [[0,0],[0.3,.073],[0.6,.18],[0.88,.296]],
 [[0,0],[0.3,.04],[0.6,.098],[0.98,.185]],
 [[0,0],[0.3,.052],[0.6,.129],[0.9,.218],[1.12,.29]],
 [[0,0],[0.3,.025],[0.6,.062],[0.9,.105]],
 [[0,0],[0.3,.046],[0.6,.113],[0.95,.205]],
 [[0,0],[0.3,.084],[0.6,.206],[0.86,.33]],
 [[0,0],[0.3,.031],[0.6,.077],[0.9,.131],[1.04,.158]],
 [[0,0],[0.3,.059],[0.6,.144],[0.92,.252]],
 [[0,0],[0.3,.027],[0.6,.067],[0.9,.113],[1.0,.13]],
 [[0,0],[0.3,.028],[0.6,.07],[0.9,.118],[0.95,.126]],
 [[0,0],[0.3,.029],[0.6,.072],[0.9,.122],[1.05,.149]],
 [[0,0],[0.3,.03],[0.6,.075],[0.9,.126]],
 [[0,0],[0.3,.031],[0.6,.077],[0.9,.131],[1.0,.15]],
 [[0,0],[0.3,.032],[0.6,.08],[0.9,.135],[0.95,.145]],
 [[0,0],[0.3,.033],[0.6,.082],[0.9,.14],[1.1,.181]],
 [[0,0],[0.3,.034],[0.6,.085],[0.85,.134]],
 [[0,0],[0.3,.036],[0.6,.088],[0.9,.148],[1.0,.17]],
 [[0,0],[0.3,.037],[0.6,.09],[0.9,.153],[0.95,.164]],
 [[0,0],[0.3,.038],[0.6,.093],[0.9,.157],[1.05,.192]],
 [[0,0],[0.3,.039],[0.6,.095],[0.9,.161]],
 [[0,0],[0.3,.04],[0.6,.098],[0.9,.166],[1.0,.19]],
 [[0,0],[0.3,.041],[0.6,.1],[0.9,.17],[1.1,.22]],
 [[0,0],[0.3,.042],[0.6,.103],[0.9,.174],[0.95,.187]],
 [[0,0],[0.3,.043],[0.6,.106],[0.9,.179],[1.05,.218]],
 [[0,0],[0.3,.044],[0.6,.108],[0.9,.183]],
 [[0,0],[0.3,.045],[0.6,.111],[0.9,.187],[1.0,.215]],
 [[0,0],[0.3,.046],[0.6,.113],[0.9,.192],[1.08,.243]],
 [[0,0],[0.3,.047],[0.6,.116],[0.9,.196],[0.95,.21]],
 [[0,0],[0.3,.048],[0.6,.118],[0.9,.2],[1.02,.236]],
 [[0,0],[0.3,.049],[0.6,.121],[0.9,.205]],
 [[0,0],[0.3,.05],[0.6,.124],[0.9,.209],[1.05,.256]],
 [[0,0],[0.3,.052],[0.6,.129],[0.9,.218],[0.98,.244]],
 [[0,0],[0.3,.033],[0.6,.082],[0.9,.14],[0.92,.144]],
 [[0,0],[0.3,.042],[0.6,.103],[0.9,.174],[1.1,.226]],
 [[0,0],[0.3,.038],[0.6,.093],[0.88,.152]],
 [[0,0],[0.3,.044],[0.6,.108],[0.9,.183],[1.04,.221]],
 [[0,0],[0.3,.028],[0.6,.068],[0.9,.115],[1.05,.141]],
 [[0,0],[0.3,.029],[0.6,.071],[0.9,.12]],
 [[0,0],[0.3,.03],[0.6,.073],[0.9,.124],[1.0,.142]],
 [[0,0],[0.3,.031],[0.6,.076],[0.9,.129],[1.1,.167]],
 [[0,0],[0.3,.032],[0.6,.078],[0.9,.133],[0.95,.142]],
 [[0,0],[0.3,.033],[0.6,.081],[0.9,.138],[1.05,.168]],
 [[0,0],[0.3,.034],[0.6,.083],[0.9,.141]],
 [[0,0],[0.3,.035],[0.6,.087],[0.9,.146],[1.0,.168]],
 [[0,0],[0.3,.036],[0.6,.089],[0.9,.15],[1.08,.189]],
 [[0,0],[0.3,.037],[0.6,.092],[0.9,.155],[0.95,.167]],
 [[0,0],[0.3,.038],[0.6,.094],[0.9,.159],[1.02,.187]],
 [[0,0],[0.3,.039],[0.6,.097],[0.9,.164],[1.1,.212]],
 [[0,0],[0.3,.04],[0.6,.099],[0.9,.167],[0.92,.172]],
 [[0,0],[0.3,.041],[0.6,.102],[0.9,.173],[1.05,.211]],
 [[0,0],[0.3,.042],[0.6,.104],[0.9,.176],[0.98,.197]],
 [[0,0],[0.3,.043],[0.6,.107],[0.9,.181],[1.0,.208]],
 [[0,0],[0.3,.044],[0.6,.109],[0.9,.185],[1.06,.228]],
 [[0,0],[0.3,.046],[0.6,.112],[0.9,.19]],
 [[0,0],[0.3,.03],[0.6,.075],[0.9,.126],[0.95,.136]],
 [[0,0],[0.3,.037],[0.6,.09],[0.9,.153],[1.12,.201]]
];

// ---------- STYLE / LAYOUT ----------
const RED = "#F8766D", CYAN = "#00BFC4";
const FONT = "Liberation Serif, 'Times New Roman', serif";
const W = 1002, H = 898;
const px = v => v / W;
const py = v => 1 - v / H;
// one dash pattern (5 on / 4 off) at six different phases so overlapping dashed curves fill in
const DASHES = ["5px,4px", "3.5px,4px,1.5px,0px", "2px,4px,3px,0px", "0.5px,4px,4.5px,0px", "0px,3px,5px,1px", "0px,1.5px,5px,2.5px"];

function flat(curves) {
  const x = [], y = [];
  curves.forEach(c => { c.forEach(p => { x.push(p[0]); y.push(p[1]); }); x.push(null); y.push(null); });
  return {x, y};
}

const panels = [
  {np: a_nonpar, wb: a_weib, xr: [-0.409, 8.43], yr: [-0.218, 4.93], xd: [px(45), px(477)], yd: [py(272), py(5)],
   xt: a_xticks, xl: null, yt: a_yticks, yl: null, xm: 1, ym: 0.5, ystand: 1},
  {np: b_nonpar, wb: b_weib, xr: [-0.238, 4.77], yr: [-0.128, 2.9], xd: [px(575), px(1001.5)], yd: [py(272), py(5)],
   xt: b_xticks, xl: null, yt: b_yticks, yl: null, xm: 0.5, ym: 0.5, ystand: 0},
  {np: c_nonpar, wb: c_weib, xr: [-0.106, 2.324], yr: [-0.06, 1.306], xd: [px(57), px(477)], yd: [py(743), py(476)],
   xt: c_xticks, xl: c_xlabels, yt: c_yticks, yl: c_ylabels, xm: 0.25, ym: 0.2, ystand: 1},
  {np: d_nonpar, wb: d_weib, xr: [-0.0565, 1.178], yr: [-0.03, 0.6546], xd: [px(586.7), px(1001.5)], yd: [py(743), py(476)],
   xt: d_xticks, xl: d_xlabels, yt: d_yticks, yl: d_ylabels, xm: 0.15, ym: 0.1, ystand: 0}
];

const traces = [];
const layout = {
  width: W, height: H, margin: {l: 0, r: 0, t: 0, b: 0},
  paper_bgcolor: "#ffffff", plot_bgcolor: "#ffffff",
  showlegend: false, font: {family: FONT, color: "#000"},
  shapes: [], annotations: []
};

panels.forEach((p, i) => {
  const n = i === 0 ? "" : String(i + 1);
  const xa = "x" + n, ya = "y" + n;
  const np = flat(p.np);
  traces.push({type: "scatter", mode: "lines", x: np.x, y: np.y, xaxis: xa, yaxis: ya, name: seriesNames[0],
    line: {color: RED, width: 1.7}, hoverinfo: "skip"});
  DASHES.forEach((d, k) => {
    const wb = flat(p.wb.filter((c, idx) => idx % DASHES.length === k));
    traces.push({type: "scatter", mode: "lines", x: wb.x, y: wb.y, xaxis: xa, yaxis: ya, name: seriesNames[1],
      line: {color: CYAN, width: 2.5, dash: d, shape: "spline", smoothing: 0.9}, hoverinfo: "skip"});
  });

  const common = {
    showline: true, mirror: true, linecolor: "#7F7F7F", linewidth: 1,
    ticks: "outside", ticklen: 4, tickwidth: 1, tickcolor: "#333333",
    showgrid: true, gridcolor: "#E3E3E3", gridwidth: 1, zeroline: false,
    tickfont: {family: FONT, size: 14, color: "#1a1a1a"},
    automargin: false, fixedrange: true
  };
  layout["xaxis" + n] = Object.assign({}, common, {
    domain: p.xd, range: p.xr, anchor: ya, tickmode: "array", tickvals: p.xt, ticktext: p.xl || p.xt.map(String),
    minor: {dtick: p.xm, tick0: 0, showgrid: true, gridcolor: "#F4F4F4", gridwidth: 1, ticks: ""},
    title: {text: "Time", font: {family: FONT, size: 18, color: "#000"}, standoff: 0}
  });
  layout["yaxis" + n] = Object.assign({}, common, {
    domain: p.yd, range: p.yr, anchor: xa, tickmode: "array", tickvals: p.yt, ticktext: p.yl || p.yt.map(String),
    minor: {dtick: p.ym, tick0: 0, showgrid: true, gridcolor: "#F4F4F4", gridwidth: 1, ticks: ""},
    title: {text: "Cumulative Hazard", font: {family: FONT, size: 18.5, color: "#000"}, standoff: p.ystand}
  });
});

// Legends (key boxes + text) and sub-captions, positioned in pixels
const legendPos = [
  {k1: 123.3, t1: 149.3, k2: 245.3, t2: 270.0, cy: 346.2, cap: 247.0, capy: 412},
  {k1: 653.3, t1: 679.3, k2: 775.3, t2: 800.0, cy: 345.7, cap: 777.5, capy: 412},
  {k1: 128.3, t1: 154.0, k2: 250.3, t2: 275.7, cy: 816.7, cap: 247.5, capy: 883},
  {k1: 658.3, t1: 684.0, k2: 780.3, t2: 805.3, cy: 816.7, cap: 777.5, capy: 883}
];
legendPos.forEach((L, i) => {
  const box = 23.4;
  [L.k1, L.k2].forEach((kx, j) => {
    layout.shapes.push({type: "rect", xref: "paper", yref: "paper", x0: px(kx), x1: px(kx + box), y0: py(L.cy + box / 2), y1: py(L.cy - box / 2),
      line: {color: "#CCCCCC", width: 1}, fillcolor: "#ffffff", layer: "above"});
    layout.shapes.push({type: "line", xref: "paper", yref: "paper", x0: px(kx + 2), x1: px(kx + box - 2), y0: py(L.cy - 1), y1: py(L.cy - 1),
      line: j === 0 ? {color: RED, width: 2} : {color: CYAN, width: 2.2, dash: "4px,3px"}, layer: "above"});
  });
  layout.annotations.push({xref: "paper", yref: "paper", x: px(L.t1 - 1), y: py(L.cy), xanchor: "left", yanchor: "middle", showarrow: false,
    text: seriesNames[0], font: {family: FONT, size: 14.5, color: "#000"}});
  layout.annotations.push({xref: "paper", yref: "paper", x: px(L.t2 - 1), y: py(L.cy), xanchor: "left", yanchor: "middle", showarrow: false,
    text: seriesNames[1], font: {family: FONT, size: 14.5, color: "#000"}});
  layout.annotations.push({xref: "paper", yref: "paper", x: px(L.cap), y: py(L.capy), xanchor: "center", yanchor: "middle", showarrow: false,
    text: "<b>" + captionTags[i] + "</b> " + captions[i], font: {family: FONT, size: 29, color: "#1a1a1a"}});
});

Plotly.newPlot("chart", traces, layout, {staticPlot: true, displayModeBar: false});
</script>
</body></html>
